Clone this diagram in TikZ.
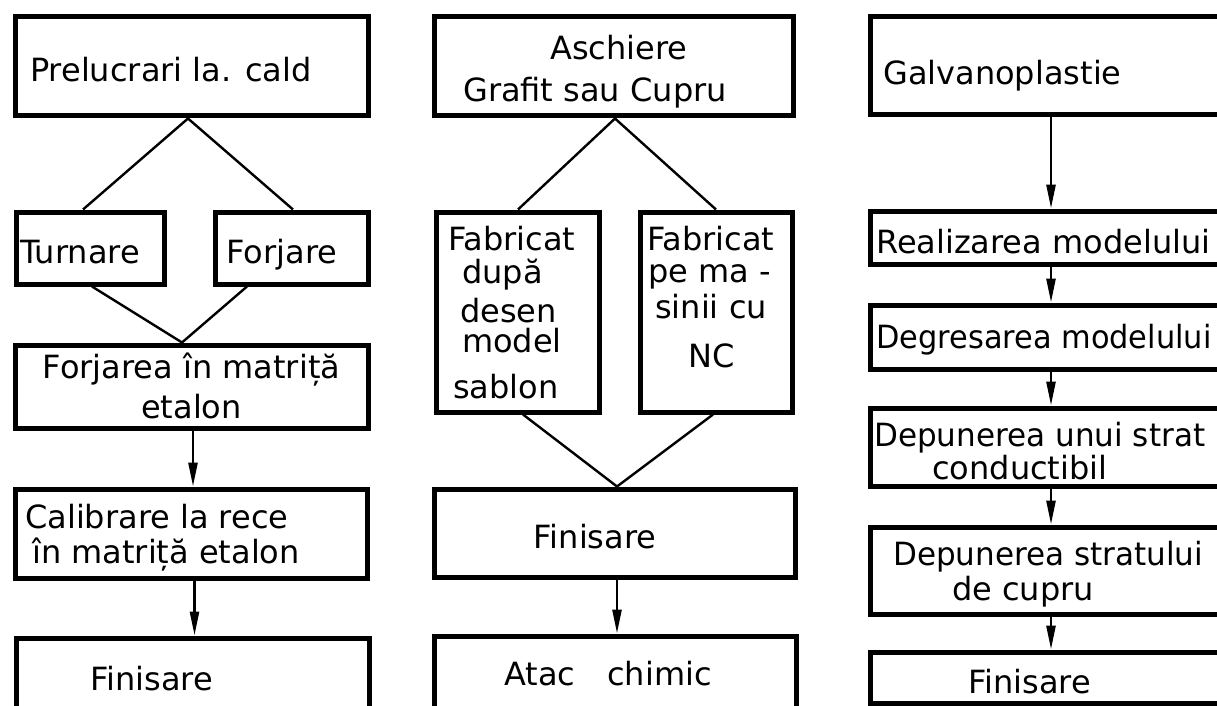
\documentclass[tikz,border=0pt]{standalone}
\usepackage{fontspec}
\setmainfont{DejaVu Sans}
\usetikzlibrary{arrows.meta}
\begin{document}
\begin{tikzpicture}[x=1pt,y=-1pt,
  box/.style={draw, rectangle, line width=5pt, inner sep=0pt},
  txt/.style={inner sep=0pt, font=\fontsize{32}{36}\selectfont},
  link/.style={line width=2.4pt},
  flow/.style={line width=2.6pt, -{Triangle[length=24pt,width=9pt]}}]

\useasboundingbox (0,0) rectangle (1217,706);
\fill[white] (0,0) rectangle (1217,706);
\clip (0,0) rectangle (1217,706);

% ---------- left column: hot working ----------
\node[box, minimum width=353pt, minimum height=99pt] (B1) at (191.5,66.5) {};
\node[box, minimum width=148pt, minimum height=72pt] (B2) at (90,248) {};
\node[box, minimum width=153pt, minimum height=72pt] (B3) at (291.5,248) {};
\node[box, minimum width=353pt, minimum height=83pt] (B4) at (191.5,386.5) {};
\node[box, minimum width=352pt, minimum height=89pt] (B5) at (191,533.5) {};
\node[box, minimum width=353pt, minimum height=84pt] (B6) at (192.5,680) {};

\node[txt, anchor=base west] (t1)  at (30,82)   {Prelucrari la. cald};
\node[txt, anchor=base west] (t2)  at (20,263)  {Turnare};
\node[txt, anchor=base]      (t3)  at (282,263) {Forjare};
\node[txt, anchor=base]      (t4a) at (191.5,378) {Forjarea în matriță};
\node[txt, anchor=base]      (t4b) at (191.5,418) {etalon};
\node[txt, anchor=base west] (t5a) at (25,528)  {Calibrare la rece};
\node[txt, anchor=base west] (t5b) at (32,563)  {în matriță etalon};
\node[txt, anchor=base west] (t6)  at (90,690)  {Finisare};

\draw[link] ([xshift=-3.5pt]B1.south) -- ([xshift=-7pt]B2.north);
\draw[link] ([xshift=-3.5pt]B1.south) -- ([xshift=1.5pt]B3.north);
\draw[link] ([xshift=2pt]B2.south) -- ([xshift=-9.5pt]B4.north);
\draw[link] ([xshift=-44.5pt]B3.south) -- ([xshift=-9.5pt]B4.north);
\draw[flow] ([xshift=1.5pt]B4.south) -- ([xshift=1.5pt]B4.south |- B5.north);
\draw[flow] ([xshift=3.5pt]B5.south) -- ([xshift=3.5pt]B5.south |- B6.north);

% ---------- middle column: machining ----------
\node[box, minimum width=359pt, minimum height=99pt]  (M1) at (613.5,66.5) {};
\node[box, minimum width=163pt, minimum height=200pt] (M2) at (518,312) {};
\node[box, minimum width=152pt, minimum height=200pt] (M3) at (716,312) {};
\node[box, minimum width=361pt, minimum height=88pt]  (M4) at (614.5,533) {};
\node[box, minimum width=362pt, minimum height=88pt]  (M5) at (615,680) {};

\node[txt, anchor=base] (u1a) at (619,60)  {Aschiere};
\node[txt, anchor=base] (u1b) at (595,102) {Grafit sau Cupru};
\node[txt, anchor=base west] (u2a) at (448,250) {Fabricat};
\node[txt, anchor=base west] (u2b) at (462,283) {după};
\node[txt, anchor=base west] (u2c) at (460,322) {desen};
\node[txt, anchor=base west] (u2d) at (462,352) {model};
\node[txt, anchor=base west] (u2e) at (453,398) {sablon};
\node[txt, anchor=base west] (u3a) at (647,250) {Fabricat};
\node[txt, anchor=base west] (u3b) at (648,282) {pe ma -};
\node[txt, anchor=base west] (u3c) at (655,318) {sinii cu};
\node[txt, anchor=base]      (u3d) at (712,367) {NC};
\node[txt, anchor=base] (u4) at (595,548) {Finisare};
\node[txt, anchor=base] (u5) at (608,685) {Atac\quad chimic};

\draw[link] ([xshift=1.5pt]M1.south) -- (M2.north);
\draw[link] ([xshift=1.5pt]M1.south) -- (M3.north);
\draw[link] ([xshift=5pt]M2.south) -- ([xshift=2.5pt]M4.north);
\draw[link] ([xshift=-3pt]M3.south) -- ([xshift=2.5pt]M4.north);
\draw[flow] ([xshift=2.5pt]M4.south) -- ([xshift=2.5pt]M4.south |- M5.north);

% ---------- right column: electroforming ----------
\node[box, minimum width=362pt, minimum height=98pt] (R1) at (1051,66) {};
\node[box, minimum width=362pt, minimum height=53pt] (R2) at (1051,237.5) {};
\node[box, minimum width=362pt, minimum height=64pt] (R3) at (1051,337) {};
\node[box, minimum width=362pt, minimum height=78pt] (R4) at (1051,447) {};
\node[box, minimum width=362pt, minimum height=87pt] (R5) at (1051,570.5) {};
\node[box, minimum width=362pt, minimum height=51pt] (R6) at (1051,677.5) {};

\node[txt, anchor=base west] (v1)  at (883,85)  {Galvanoplastie};
\node[txt, anchor=base west] (v2)  at (876,253) {Realizarea modelului};
\node[txt, anchor=base west] (v3)  at (876,348) {\scalebox{0.95}[1]{Degresarea modelului}};
\node[txt, anchor=base west] (v4a) at (874,446) {\scalebox{0.97}[1]{Depunerea unui strat}};
\node[txt, anchor=base west] (v4b) at (932,479) {conductibil};
\node[txt, anchor=base west] (v5a) at (893,565) {\scalebox{0.97}[1]{Depunerea stratului}};
\node[txt, anchor=base west] (v5b) at (952,600) {de cupru};
\node[txt, anchor=base west] (v6)  at (968,693) {Finisare};

\draw[flow] (R1.south) -- (R2.north);
\draw[flow] (R2.south) -- (R3.north);
\draw[flow] (R3.south) -- (R4.north);
\draw[flow] (R4.south) -- (R5.north);
\draw[flow] (R5.south) -- (R6.north);
\end{tikzpicture}
\end{document}
